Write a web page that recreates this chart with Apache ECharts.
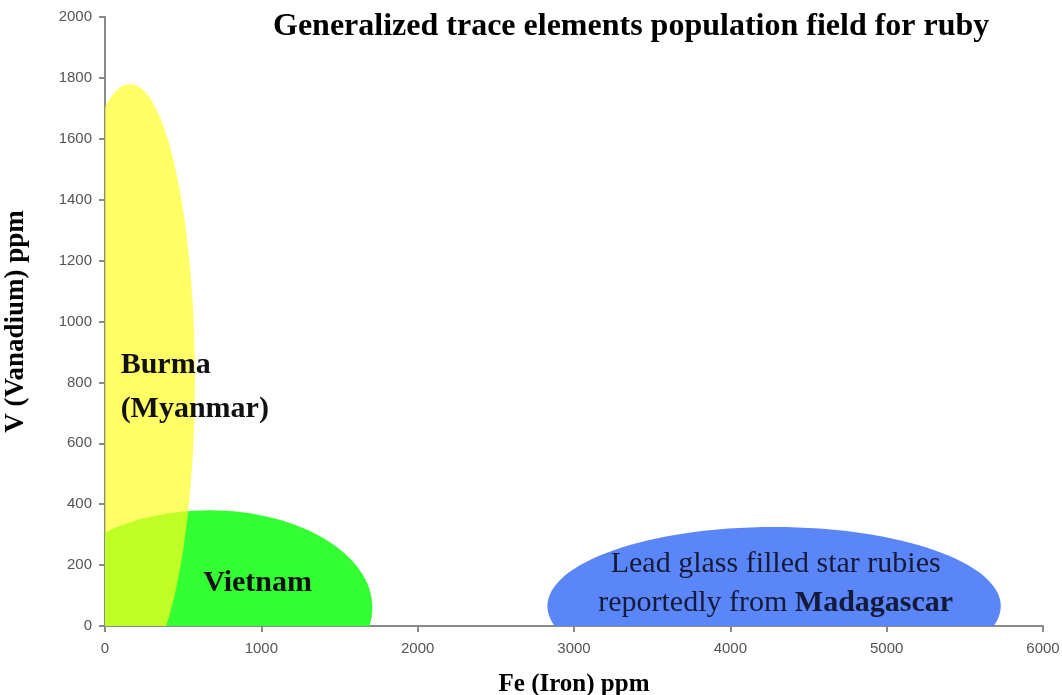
<!DOCTYPE html>
<html>
<head>
<meta charset="utf-8">
<script src="https://cdn.jsdelivr.net/npm/echarts@6/dist/echarts.min.js"></script>
<style>
  html, body { margin: 0; padding: 0; background: #fff; }
  #main { width: 1062px; height: 695px; }
</style>
</head>
<body>
<div id="main"></div>
<script>
// Population fields drawn as ellipses: centre (Fe, V) and half-widths (Fe, V)
const fieldNames = ['Vietnam', 'Burma (Myanmar)', 'Madagascar'];
const fieldFeCenter = [665, 160, 4280];
const fieldVCenter = [60, 808, 65];
const fieldFeRadius = [1045, 415, 1450];
const fieldVRadius = [320, 972, 260];

// Label anchors (Fe, V)
const labelTexts = [
  '{b|Vietnam}',
  '{b|Burma}\n{b|(Myanmar)}',
  '{r|Lead glass filled star rubies}\n{r|reportedly from }{b|Madagascar}'
];
const labelFe = [976, 100, 4290];
const labelV = [140, 785, 140];

const xTicks = [0, 1000, 2000, 3000, 4000, 5000, 6000];
const yTicks = [0, 200, 400, 600, 800, 1000, 1200, 1400, 1600, 1800, 2000];

const fieldColors = ['#33ff33', 'rgba(255,255,33,0.69)', '#5b86f7'];
const labelAlign = ['center', 'left', 'center'];
const labelColor = ['#111', '#111', '#141a3c'];

const serif = '"Liberation Serif", "Times New Roman", serif';
const sans = '"Liberation Sans", Arial, sans-serif';

const chart = echarts.init(document.getElementById('main'));

const fieldData = fieldNames.map((n, i) => ({
  name: n,
  value: [fieldFeCenter[i], fieldVCenter[i], fieldFeRadius[i], fieldVRadius[i]]
}));
const labelData = labelTexts.map((t, i) => ({ value: [labelFe[i], labelV[i]], text: t }));

const axisLine = { show: true, onZero: false, lineStyle: { color: '#8a8a8a', width: 2 } };

const option = {
  animation: false,
  backgroundColor: '#fff',
  title: {
    text: 'Generalized trace elements population field for ruby',
    left: 268,
    top: 6,
    textStyle: { fontFamily: serif, fontWeight: 'bold', fontSize: 32, color: '#000' }
  },
  grid: { left: 105, right: 19, top: 17, bottom: 69, outerBoundsMode: 'none', containLabel: false },
  xAxis: {
    type: 'value',
    min: 0, max: 6000, interval: 1000,
    name: 'Fe (Iron) ppm',
    nameLocation: 'middle',
    nameGap: 46,
    nameTextStyle: { fontFamily: serif, fontWeight: 'bold', fontSize: 25, color: '#000' },
    axisLine: axisLine,
    axisTick: { show: true, length: 6, lineStyle: { color: '#8a8a8a', width: 2 } },
    axisLabel: { margin: 15, fontFamily: sans, fontSize: 15, color: '#555',
      formatter: v => (xTicks.indexOf(v) >= 0 ? String(v) : '') },
    splitLine: { show: false }
  },
  yAxis: {
    type: 'value',
    min: 0, max: 2000, interval: 200,
    name: 'V (Vanadium) ppm',
    nameLocation: 'middle',
    nameGap: 75,
    nameTextStyle: { fontFamily: serif, fontWeight: 'bold', fontSize: 27, color: '#000' },
    axisLine: axisLine,
    axisTick: { show: true, length: 6, lineStyle: { color: '#8a8a8a', width: 2 } },
    axisLabel: { margin: 13, fontFamily: sans, fontSize: 15, color: '#555',
      formatter: v => (yTicks.indexOf(v) >= 0 ? String(v) : '') },
    splitLine: { show: false }
  },
  series: [
    {
      type: 'custom',
      z: 1,
      data: fieldData,
      renderItem: function (params, api) {
        const c = api.coord([api.value(0), api.value(1)]);
        const s = api.size([api.value(2), api.value(3)]);
        const cs = params.coordSys;
        return {
          type: 'group',
          clipPath: { type: 'rect', shape: { x: cs.x, y: cs.y, width: cs.width, height: cs.height } },
          children: [{
            type: 'ellipse',
            shape: { cx: c[0], cy: c[1], rx: s[0], ry: s[1] },
            style: { fill: fieldColors[params.dataIndex] }
          }]
        };
      }
    },
    {
      type: 'custom',
      z: 3,
      data: labelData,
      renderItem: function (params, api) {
        const i = params.dataIndex;
        const p = api.coord([api.value(0), api.value(1)]);
        return {
          type: 'text',
          x: p[0],
          y: p[1],
          style: {
            text: labelTexts[i],
            align: labelAlign[i],
            verticalAlign: 'middle',
            fill: labelColor[i],
            rich: {
              b: { fontFamily: serif, fontWeight: 'bold', fontSize: 30, lineHeight: i === 1 ? 44 : 39, fill: labelColor[i], align: labelAlign[i] },
              r: { fontFamily: serif, fontSize: 30, lineHeight: 39, fill: labelColor[i], align: labelAlign[i] }
            }
          }
        };
      }
    }
  ]
};

chart.setOption(option);
</script>
</body>
</html>
